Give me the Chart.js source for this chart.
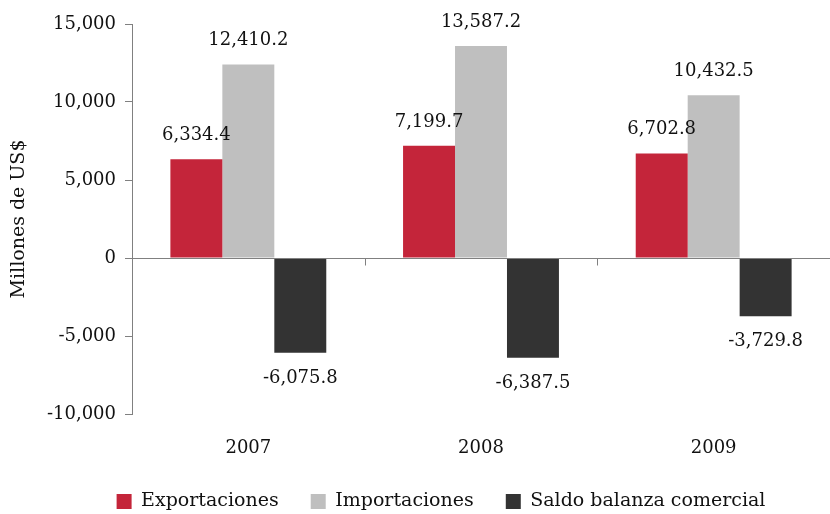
<!DOCTYPE html>
<html>
<head>
<meta charset="utf-8">
<script src="https://cdn.jsdelivr.net/npm/chart.js@4/dist/chart.umd.min.js"></script>
<style>
  html, body { margin: 0; padding: 0; background: #fff; }
  #wrap { width: 830px; height: 514px; }
</style>
</head>
<body>
<div id="wrap"><canvas id="chart"></canvas></div>
<script>
const years = ['2007', '2008', '2009'];
const exportaciones = [6334.4, 7199.7, 6702.8];
const importaciones = [12410.2, 13587.2, 10432.5];
const saldo = [-6075.8, -6387.5, -3729.8];
const yTicks = [-10000, -5000, 0, 5000, 10000, 15000];

const FONT = 'DejaVu Serif';

const fmt = v => v.toLocaleString('en-US', {minimumFractionDigits: 1, maximumFractionDigits: 1});

// zero line plus the little ticks between the years
const zeroLine = {
    id: 'zeroLine',
    afterDatasetsDraw(chart) {
        const {ctx, chartArea, scales} = chart;
        const y0 = Math.round(scales.y.getPixelForValue(0)) + 0.5;
        ctx.save();
        ctx.strokeStyle = '#808080';
        ctx.lineWidth = 1;
        ctx.beginPath();
        ctx.moveTo(chartArea.left, y0);
        ctx.lineTo(chartArea.right, y0);
        for (let i = 1; i < years.length; i++) {
            const x = Math.round((scales.x.getPixelForValue(i - 1) + scales.x.getPixelForValue(i)) / 2) + 0.5;
            ctx.moveTo(x, y0);
            ctx.lineTo(x, y0 + 7);
        }
        ctx.stroke();
        ctx.restore();
    }
};

// value labels above / below bars
const barLabels = {
    id: 'barLabels',
    afterDatasetsDraw(chart) {
        const {ctx} = chart;
        ctx.save();
        ctx.font = '18px "' + FONT + '"';
        ctx.fillStyle = '#111';
        ctx.textAlign = 'center';
        ctx.textBaseline = 'alphabetic';
        chart.data.datasets.forEach((ds, di) => {
            chart.getDatasetMeta(di).data.forEach((bar, i) => {
                const v = ds.data[i];
                const y = v >= 0 ? bar.y - 19 : bar.y + 30;
                ctx.fillText(fmt(v), bar.x, y);
            });
        });
        ctx.restore();
    }
};

// nudge the legend a bit down and right, like the original
const legendShift = {
    id: 'legendShift',
    afterLayout(chart) {
        const l = chart.legend;
        l.top += 7; l.bottom += 7;
        l.left += 26; l.right += 26;
    }
};

new Chart(document.getElementById('chart'), {
    type: 'bar',
    data: {
        labels: years,
        datasets: [
            {label: 'Exportaciones', data: exportaciones, backgroundColor: '#C4253A'},
            {label: 'Importaciones', data: importaciones, backgroundColor: '#BFBFBF'},
            {label: 'Saldo balanza comercial', data: saldo, backgroundColor: '#333333'}
        ]
    },
    options: {
        responsive: true,
        maintainAspectRatio: false,
        animation: false,
        layout: {padding: {top: 24, right: 0, left: 0, bottom: 0}},
        datasets: {bar: {categoryPercentage: 0.67, barPercentage: 1}},
        scales: {
            x: {
                grid: {display: false},
                border: {display: false},
                ticks: {color: '#111', font: {family: FONT, size: 18}, padding: 16},
                afterFit(scale) { scale.height = 39; }
            },
            y: {
                min: -10000,
                max: 15000,
                afterBuildTicks(scale) { scale.ticks = yTicks.map(v => ({value: v})); },
                grid: {drawOnChartArea: false, drawTicks: true, tickLength: 7, color: '#808080'},
                border: {display: true, color: '#808080'},
                ticks: {
                    color: '#111',
                    font: {family: FONT, size: 18},
                    padding: 9,
                    callback: v => v.toLocaleString('en-US')
                },
                title: {
                    display: true,
                    text: 'Millones de US$',
                    color: '#111',
                    font: {family: FONT, size: 19},
                    padding: {top: 8, bottom: 8}
                },
                afterFit(scale) { scale.width = 132; }
            }
        },
        plugins: {
            legend: {
                position: 'bottom',
                labels: {
                    color: '#111',
                    font: {family: FONT, size: 19},
                    boxWidth: 15,
                    boxHeight: 15,
                    padding: 32
                }
            },
            tooltip: {enabled: false}
        }
    },
    plugins: [zeroLine, barLabels, legendShift]
});
</script>
</body>
</html>
